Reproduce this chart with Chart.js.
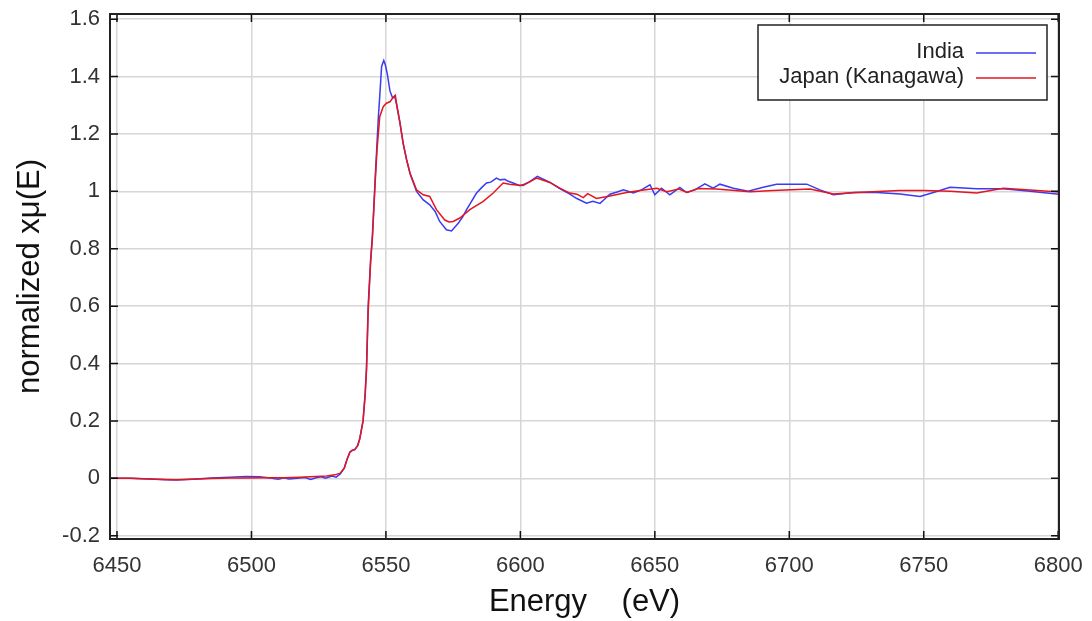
<!DOCTYPE html>
<html>
<head>
<meta charset="utf-8">
<script src="https://cdn.jsdelivr.net/npm/chart.js@4/dist/chart.umd.min.js"></script>
<style>
  body { margin: 0; background: #fff; }
  #wrap { width: 1092px; height: 621px; }
</style>
</head>
<body>
<div id="wrap"><canvas id="xanesChart" width="1092" height="621"></canvas></div>
<script>
// series labels
var seriesNames = ['India', 'Japan (Kanagawa)'];

// India: energy (eV) and normalized xmu(E)
var indiaE = [6447.4, 6455, 6462, 6468, 6472, 6478, 6485, 6492, 6498, 6503, 6507, 6510, 6512, 6514, 6517, 6520,
  6522, 6524, 6526, 6527.5, 6530, 6531.5, 6533, 6534.5, 6535.5, 6536.6, 6537.5, 6538.4, 6539.5, 6540.3, 6541.5,
  6542.3, 6542.8, 6543.4, 6544.3, 6545, 6546.2, 6547.2, 6547.7, 6548.4, 6549.2, 6549.8, 6550.5, 6551.5, 6552.5,
  6553.3, 6553.9, 6555.2, 6556.4, 6557.7, 6559, 6561.4, 6563.9, 6566.3, 6568.3, 6570, 6572.5, 6574.4, 6576.9,
  6578.5, 6580, 6581.5, 6583.7, 6585.5, 6587.4, 6589, 6591.1, 6592.5, 6594.2, 6595.5, 6597.3, 6599.8, 6601.5,
  6603.5, 6606.3, 6608.5, 6611, 6614.5, 6618.4, 6621, 6624.6, 6627, 6629.6, 6631, 6633.3, 6636, 6638.3, 6642,
  6645, 6648.2, 6650, 6652.5, 6655.6, 6659.3, 6661.8, 6664.9, 6668.6, 6671.7, 6674.2, 6679.2, 6684.7, 6690.3,
  6695.3, 6706.5, 6711.4, 6716.4, 6723.8, 6732.5, 6741.2, 6748.6, 6753.6, 6759.8, 6769.7, 6779.6, 6789.5, 6800.3];
var indiaMu = [0, 0, -0.002, -0.005, -0.006, -0.003, 0.001, 0.004, 0.006, 0.005, 0.001, -0.003, 0.002, -0.002, 0, 0.003,
  -0.004, 0.002, 0.005, 0, 0.008, 0.004, 0.015, 0.035, 0.065, 0.092, 0.098, 0.10, 0.115, 0.14, 0.20,
  0.30, 0.39, 0.60, 0.76, 0.85, 1.08, 1.26, 1.33, 1.435, 1.456, 1.44, 1.41, 1.35, 1.325,
  1.33, 1.305, 1.24, 1.168, 1.11, 1.06, 1.0, 0.97, 0.953, 0.93, 0.895, 0.866, 0.862, 0.889,
  0.91, 0.936, 0.96, 0.994, 1.012, 1.029, 1.032, 1.046, 1.04, 1.042, 1.035, 1.029, 1.02, 1.025,
  1.034, 1.052, 1.042, 1.031, 1.01, 0.99, 0.975, 0.959, 0.965, 0.958, 0.97, 0.99, 0.998, 1.005, 0.994,
  1.005, 1.023, 0.988, 1.011, 0.988, 1.014, 0.996, 1.005, 1.026, 1.011, 1.025, 1.011, 1.0, 1.014,
  1.025, 1.025, 1.005, 0.988, 0.996, 0.996, 0.991, 0.982, 0.996, 1.014, 1.009, 1.009, 1.0, 0.99];

// Japan (Kanagawa)
var japanE = [6447.4, 6455, 6462, 6468, 6472, 6478, 6485, 6492, 6498, 6505, 6512, 6518, 6524, 6528, 6531, 6533,
  6534.5, 6535.5, 6536.6, 6537.5, 6538.4, 6539.5, 6540.3, 6541.5, 6542.3, 6542.8, 6543.4, 6544.3, 6545, 6546,
  6546.7, 6547.7, 6549, 6550.2, 6551.5, 6552.7, 6553.5, 6553.9, 6555.2, 6556.4, 6557.7, 6559, 6561.4, 6563.9,
  6566.3, 6568.8, 6571.9, 6573.5, 6575, 6577.5, 6581.2, 6586.2, 6589.9, 6593.6, 6596, 6598.6, 6601, 6606, 6611,
  6614.5, 6618.4, 6621, 6623.4, 6625, 6628.3, 6633.3, 6639.5, 6644.5, 6650.7, 6654.4, 6659, 6662, 6666, 6672.9,
  6685.4, 6694, 6707.7, 6716.4, 6725, 6741, 6750, 6760, 6769.7, 6779.6, 6789.5, 6800.3];
var japanMu = [0, 0, -0.002, -0.004, -0.005, -0.003, -0.001, 0.001, 0.001, 0.002, 0.002, 0.004, 0.006, 0.008, 0.012, 0.018,
  0.035, 0.065, 0.09, 0.097, 0.10, 0.113, 0.138, 0.2, 0.29, 0.38, 0.58, 0.75, 0.84, 1.03,
  1.145, 1.26, 1.295, 1.307, 1.312, 1.328, 1.335, 1.31, 1.24, 1.168, 1.11, 1.063, 1.005, 0.988,
  0.982, 0.936, 0.90, 0.893, 0.895, 0.907, 0.936, 0.965, 0.994, 1.029, 1.025, 1.022, 1.02, 1.046, 1.031,
  1.012, 0.994, 0.99, 0.978, 0.992, 0.975, 0.984, 0.996, 1.003, 1.011, 0.999, 1.008, 0.996, 1.01, 1.008,
  0.999, 1.003, 1.008, 0.991, 0.996, 1.003, 1.003, 1.0, 0.994, 1.011, 1.005, 0.998];

var xTicks = [6450, 6500, 6550, 6600, 6650, 6700, 6750, 6800];
var yTicks = [-0.2, 0, 0.2, 0.4, 0.6, 0.8, 1, 1.2, 1.4, 1.6];
var lineColors = ['#3b3bf2', '#e3161f'];

function toPoints(xs, ys) {
    return xs.map((x, i) => ({x: x, y: ys[i]}));
}

Chart.defaults.font.family = "'Liberation Sans', Arial, sans-serif";

// frame, inward tick marks and the legend box
var framePlugin = {
    id: 'frame',
    afterDraw(chart) {
        const ctx = chart.ctx;
        const a = chart.chartArea;
        const xs = chart.scales.x, ys = chart.scales.y;
        ctx.save();
        ctx.strokeStyle = '#111';
        ctx.lineWidth = 1.5;
        ctx.beginPath();
        xTicks.forEach(v => {
            const px = xs.getPixelForValue(v);
            ctx.moveTo(px, a.bottom); ctx.lineTo(px, a.bottom - 8);
            ctx.moveTo(px, a.top); ctx.lineTo(px, a.top + 8);
        });
        yTicks.forEach(v => {
            const py = ys.getPixelForValue(v);
            ctx.moveTo(a.left, py); ctx.lineTo(a.left + 8, py);
            ctx.moveTo(a.right, py); ctx.lineTo(a.right - 8, py);
        });
        ctx.stroke();
        ctx.lineWidth = 2;
        ctx.strokeStyle = '#222';
        ctx.strokeRect(a.left, a.top, a.right - a.left, a.bottom - a.top);

        // legend
        const bx = 758, by = 25, bw = 289, bh = 75;
        ctx.fillStyle = '#fff';
        ctx.fillRect(bx, by, bw, bh);
        ctx.lineWidth = 1.5;
        ctx.strokeStyle = '#222';
        ctx.strokeRect(bx, by, bw, bh);
        ctx.font = "22px 'Liberation Sans', Arial, sans-serif";
        ctx.textAlign = 'right';
        ctx.textBaseline = 'middle';
        seriesNames.forEach((name, i) => {
            const ty = by + 27 + i * 25;
            ctx.fillStyle = '#222';
            ctx.fillText(name, 964, ty);
            ctx.strokeStyle = lineColors[i];
            ctx.lineWidth = 1.5;
            ctx.beginPath();
            ctx.moveTo(976, ty + 1); ctx.lineTo(1036, ty + 1);
            ctx.stroke();
        });
        ctx.restore();
    }
};

var ctx = document.getElementById('xanesChart').getContext('2d');

var xanesChart = new Chart(ctx, {
    type: 'scatter',
    data: {
        datasets: [{
            label: seriesNames[0],
            data: toPoints(indiaE, indiaMu),
            showLine: true,
            borderColor: lineColors[0],
            borderWidth: 1.5,
            pointRadius: 0,
            order: 1
        }, {
            label: seriesNames[1],
            data: toPoints(japanE, japanMu),
            showLine: true,
            borderColor: lineColors[1],
            borderWidth: 1.5,
            pointRadius: 0,
            order: 0
        }]
    },
    options: {
        responsive: false,
        animation: false,
        layout: { padding: { top: 14, right: 33, left: 0, bottom: 0 } },
        plugins: {
            legend: { display: false },
            tooltip: { enabled: false }
        },
        scales: {
            x: {
                type: 'linear',
                min: 6447.4,
                max: 6800.3,
                afterBuildTicks: s => { s.ticks = xTicks.map(v => ({value: v})); },
                afterFit: s => { s.height = 82; s.paddingLeft = 0; s.paddingRight = 0; },
                grid: { color: '#d6d6d6', lineWidth: 1.5, drawTicks: false },
                border: { display: false },
                ticks: {
                    padding: 14,
                    color: '#333',
                    font: { size: 22 },
                    maxRotation: 0,
                    callback: v => String(v)
                },
                title: {
                    display: true,
                    text: 'Energy    (eV)',
                    color: '#111',
                    font: { size: 31 },
                    padding: { top: 0, bottom: 0 }
                }
            },
            y: {
                min: -0.2115,
                max: 1.618,
                afterBuildTicks: s => { s.ticks = yTicks.map(v => ({value: v})); },
                afterFit: s => { s.width = 110; s.paddingTop = 0; s.paddingBottom = 0; },
                grid: { color: '#d6d6d6', lineWidth: 1.5, drawTicks: false },
                border: { display: false },
                ticks: {
                    padding: 10,
                    color: '#333',
                    font: { size: 22 },
                    callback: v => String(+v.toFixed(1))
                },
                title: {
                    display: true,
                    text: 'normalized xμ(E)',
                    color: '#111',
                    font: { size: 31 },
                    padding: { top: 12, bottom: 0 }
                }
            }
        }
    },
    plugins: [framePlugin]
});
</script>
</body>
</html>
